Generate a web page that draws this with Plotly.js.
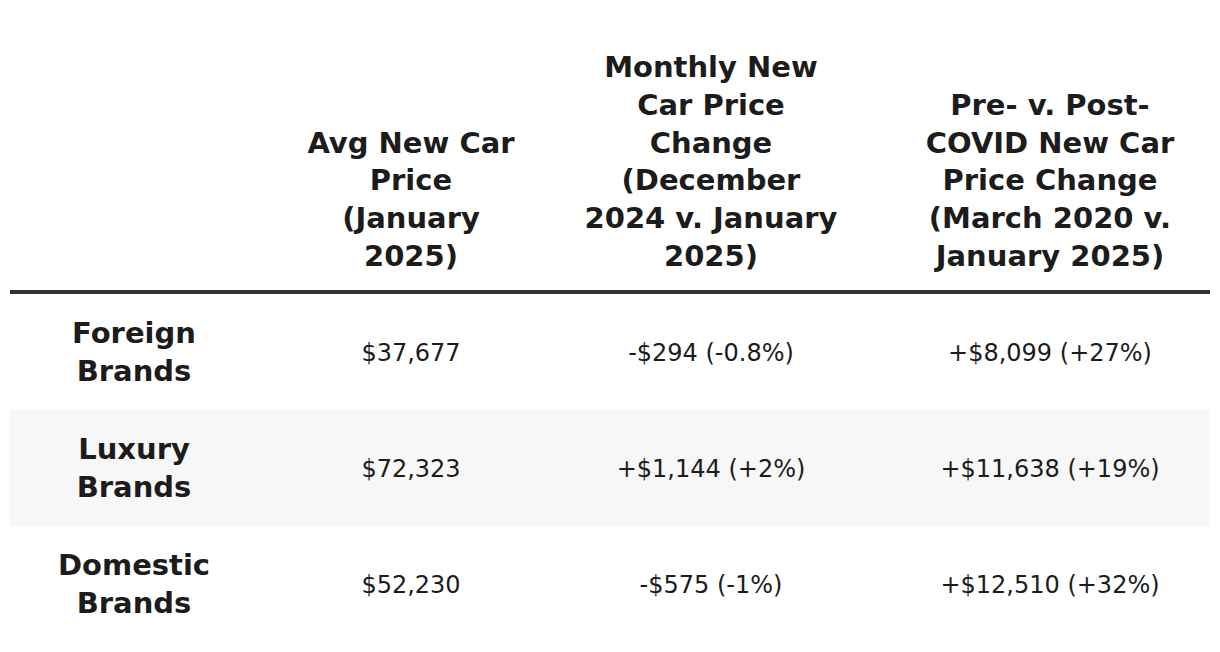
<!DOCTYPE html>
<html>
<head>
<meta charset="utf-8">
<script src="https://cdn.plot.ly/plotly-3.0.1.min.js"></script>
<style>
  html, body { margin: 0; padding: 0; background: #fff; }
  #chart { width: 1220px; height: 652px; }
</style>
</head>
<body>
<div id="chart"></div>
<script>
// ---- data ----
const brands = ['Foreign Brands', 'Luxury Brands', 'Domestic Brands'];
const avgPrice = [37677, 72323, 52230];
const monthlyChange = [-294, 1144, -575];
const monthlyPct = [-0.8, 2, -1];
const covidChange = [8099, 11638, 12510];
const covidPct = [27, 19, 32];
const headers = [
  '',
  'Avg New Car<br>Price<br>(January<br>2025)',
  'Monthly New<br>Car Price<br>Change<br>(December<br>2024 v. January<br>2025)',
  'Pre- v. Post-<br>COVID New Car<br>Price Change<br>(March 2020 v.<br>January 2025)'
];

// ---- layout constants (px) ----
const W = 1220, H = 652;
const LEFT = 10, RIGHT = 1210;
const colCenters = [134, 411, 711, 1050];
const ROW_TOP = 294, ROW_H = 116;
const HEADER_BOTTOM = 273;
const TEXT_DY = 2.5 / ROW_H;   // nudge cell text down a touch
const FONT = '"DejaVu Sans", Inter, sans-serif';
const INK = '#1c1c1c';

// pixel -> row units (row i is centred on i)
const toRow = px => (px - ROW_TOP) / ROW_H - 0.5;

const sign = v => (v < 0 ? '-' : '+');
const money = v => sign(v) + '$' + Math.abs(v).toLocaleString('en-US');
const pct = v => '(' + sign(v) + Math.abs(v) + '%)';

const rowIdx = brands.map((_, i) => i);
const columns = [
  brands.map(b => b.replace(' ', '<br>')),
  avgPrice.map(v => '$' + v.toLocaleString('en-US')),
  monthlyChange.map((v, i) => money(v) + ' ' + pct(monthlyPct[i])),
  covidChange.map((v, i) => money(v) + ' ' + pct(covidPct[i]))
];

const traces = columns.map((col, c) => ({
  type: 'scatter',
  mode: 'text',
  x: rowIdx.map(() => colCenters[c]),
  y: rowIdx.map(i => i + TEXT_DY),
  text: col,
  textposition: 'middle center',
  textfont: { family: FONT, size: c === 0 ? 29 : 24, weight: c === 0 ? 700 : 400, color: INK },
  hoverinfo: 'skip',
  cliponaxis: false
}));

traces.push({
  type: 'scatter',
  mode: 'text',
  x: colCenters,
  y: headers.map(() => toRow(HEADER_BOTTOM)),
  text: headers,
  textposition: 'top center',
  textfont: { family: FONT, size: 29, weight: 700, color: INK },
  hoverinfo: 'skip',
  cliponaxis: false
});

const shapes = rowIdx.filter(i => i % 2 === 1).map(i => ({
  type: 'rect', xref: 'x', yref: 'y', layer: 'below',
  x0: LEFT, x1: RIGHT, y0: i - 0.5, y1: i + 0.5,
  fillcolor: '#f7f7f7', line: { width: 0 }
}));
shapes.push({
  type: 'line', xref: 'x', yref: 'y',
  x0: LEFT, x1: RIGHT, y0: -0.5 - 2 / ROW_H, y1: -0.5 - 2 / ROW_H,
  line: { color: '#333333', width: 4 }
});

const layout = {
  width: W,
  height: H,
  margin: { l: 0, r: 0, t: 0, b: 0 },
  paper_bgcolor: '#ffffff',
  plot_bgcolor: '#ffffff',
  showlegend: false,
  xaxis: { range: [0, W], visible: false, fixedrange: true },
  yaxis: { range: [toRow(H), toRow(0)], visible: false, fixedrange: true },
  shapes: shapes
};

Plotly.newPlot('chart', traces, layout, { displayModeBar: false, staticPlot: true });
</script>
</body>
</html>
